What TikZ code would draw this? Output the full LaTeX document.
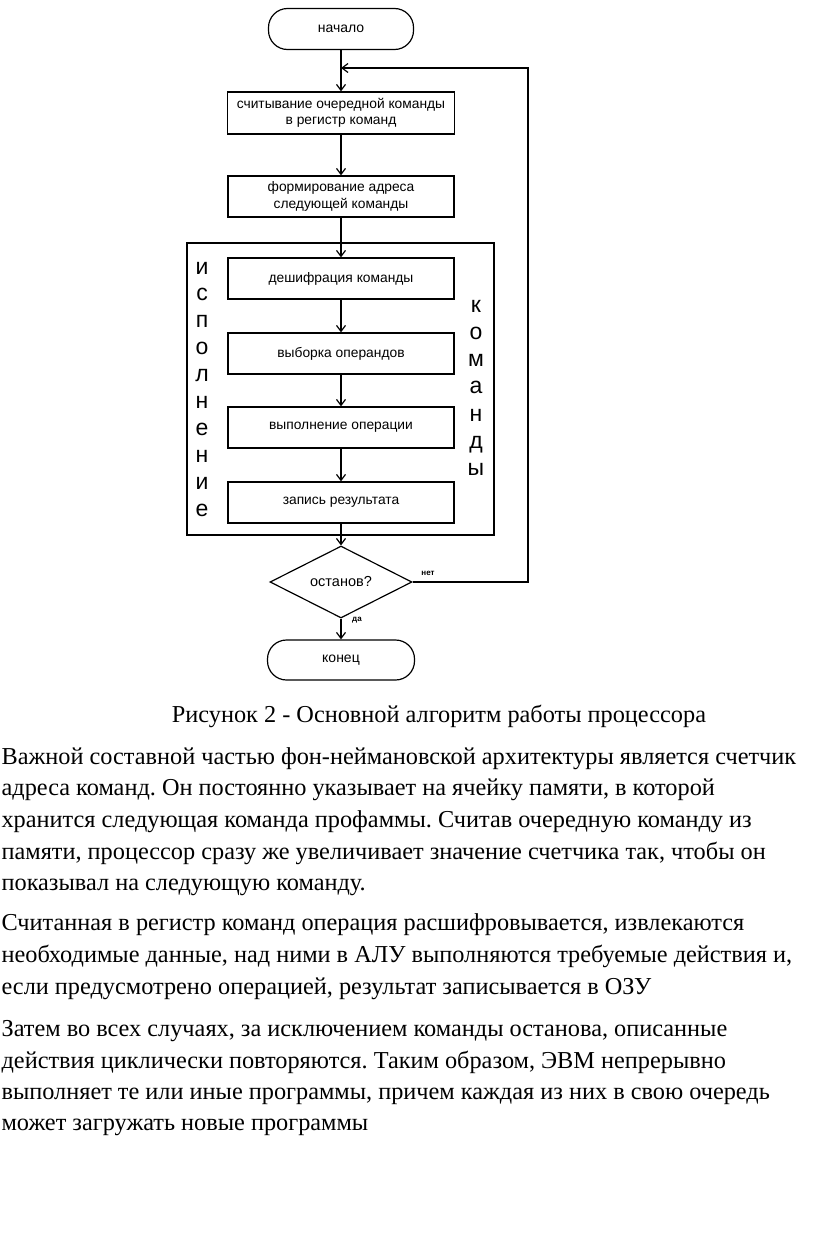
\documentclass[tikz,border=0pt]{standalone}
\usepackage{fontspec}
\setmainfont{Liberation Serif}
\newfontfamily\diag{Liberation Sans}
\usetikzlibrary{shapes.geometric,arrows.meta}
\frenchspacing
\begin{document}
\begin{tikzpicture}[x=1pt,y=-1pt,
  line width=1.2pt,
  arr/.style={-{Straight Barb[length=6pt,width=9pt,line width=1.2pt]}},
  proc/.style={draw, minimum width=226pt, minimum height=41pt, inner sep=0pt, align=center,
    font=\diag\fontsize{13.8}{16.5}\selectfont},
  term/.style={draw, rounded corners=19pt, minimum width=145pt, minimum height=41pt, inner sep=0pt,
    font=\diag\fontsize{14}{16}\selectfont},
  dec/.style={draw, diamond, minimum width=142pt, minimum height=50pt, inner sep=0pt,
    font=\diag\fontsize{14.5}{16}\selectfont},
  vlet/.style={anchor=base, inner sep=0pt, font=\diag\fontsize{23}{23}\selectfont},
  small/.style={inner sep=0pt, font=\diag\bfseries\fontsize{8}{9}\selectfont},
  para/.style={anchor=base west, inner sep=0pt, font=\fontsize{24.3}{28}\selectfont},
  captxt/.style={anchor=base, inner sep=0pt, font=\fontsize{24.3}{28}\selectfont}
]
\fill[white] (0,0) rectangle (816,1234);
\useasboundingbox (0,0) rectangle (816,1234);

% outer frame
\node[draw, minimum width=307pt, minimum height=292pt, inner sep=0pt] (outer) at (340.5,389) {};

\node[term] (start) at (341,29) {начало};
\node[proc, minimum width=227pt, minimum height=42pt] (b1) at (341,113) {считывание очередной команды\\в регистр команд};
\node[proc] (b2) at (341,196.5) {формирование адреса\\следующей команды};
\node[proc] (b3) at (341,278.5) {дешифрация команды};
\node[proc] (b4) at (341,353.5) {выборка операндов};
\node[proc] (b5) at (341,427.5) {выполнение операции};
\node[proc] (b6) at (341,502.5) {запись результата};
\node[dec] (d) at (341,582) {останов?};
\node[term, minimum width=147pt, minimum height=40pt] (end) at (341,660) {конец};

% vertical words
\foreach \c [count=\i from 0] in {и,с,п,о,л,н,е,н,и,е}
  \node[vlet] (l\i) at (202,{274+26.9*\i}) {\c};
\foreach \c [count=\i from 0] in {к,о,м,а,н,д,ы}
  \node[vlet] (r\i) at (476,{312+27.3*\i}) {\c};

% connectors
\coordinate (j) at (341,68);
\coordinate (jr) at (528,68);
\draw[arr] (start) -- (b1);
\draw[arr] (b1) -- (b2);
\draw[arr] (b2) -- (b3);
\draw[arr] (b3) -- (b4);
\draw[arr] (b4) -- (b5);
\draw[arr] (b5) -- (b6);
\draw[arr] (b6) -- (d);
\draw[arr] (d) -- (end);
\draw[arr] (d.east) -| (jr) -- (j);
\node[small] (no) at (428,573) {нет};
\node[small] (yes) at (357,620) {да};

% caption and text
\node[captxt] (caption) at (439,722) {Рисунок 2 - Основной алгоритм работы процессора};
\node[para] (p1) at (1,764) {Важной составной частью фон-неймановской архитектуры является счетчик};
\node[para] (p2) at (1,795) {адреса команд. Он постоянно указывает на ячейку памяти, в которой};
\node[para] (p3) at (1,827) {хранится следующая команда профаммы. Считав очередную команду из};
\node[para] (p4) at (1,859) {памяти, процессор сразу же увеличивает значение счетчика так, чтобы он};
\node[para] (p5) at (1,890) {показывал на следующую команду.};
\node[para] (q1) at (1,930) {Считанная в регистр команд операция расшифровывается, извлекаются};
\node[para] (q2) at (1,962) {необходимые данные, над ними в АЛУ выполняются требуемые действия и,};
\node[para] (q3) at (1,994) {если предусмотрено операцией, результат записывается в ОЗУ};
\node[para] (s1) at (1,1036) {Затем во всех случаях, за исключением команды останова, описанные};
\node[para] (s2) at (1,1068) {действия циклически повторяются. Таким образом, ЭВМ непрерывно};
\node[para] (s3) at (1,1099) {выполняет те или иные программы, причем каждая из них в свою очередь};
\node[para] (s4) at (1,1130) {может загружать новые программы};
\end{tikzpicture}
\end{document}
